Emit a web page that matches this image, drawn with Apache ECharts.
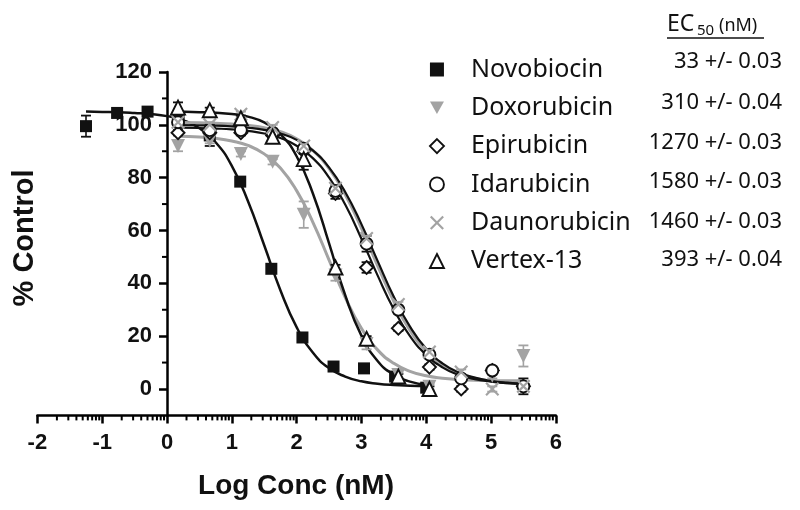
<!DOCTYPE html>
<html><head><meta charset="utf-8">
<script src="https://cdn.jsdelivr.net/npm/echarts@6/dist/echarts.min.js"></script>
<style>html,body{margin:0;padding:0;background:#fff}#c{width:800px;height:510px}</style>
</head><body><div id="c"></div>
<script>
// ---- data ----
const seriesNames = ['Novobiocin','Doxorubicin','Epirubicin','Idarubicin','Daunorubicin','Vertex-13'];
const ec50Labels = ['33 +/- 0.03','310 +/- 0.04','1270 +/- 0.03','1580 +/- 0.03','1460 +/- 0.03','393 +/- 0.04'];
const xTicks = [-2,-1,0,1,2,3,4,5,6];
const yTicks = [0,20,40,60,80,100,120];

const doseNovo  = [-1.25,-0.77,-0.30,0.18,0.66,1.13,1.61,2.09,2.57,3.04,3.52,4.00];
const doseOther = [0.17,0.66,1.14,1.63,2.11,2.60,3.08,3.57,4.05,4.54,5.02,5.50];

const novoY  = [99.5,104.5,105,102,96,78.5,45.5,19.5,8.5,7.8,4.7,0.5];
const novoE  = [4,1,1.5,1,4,1,1,1,1,1.5,1,1];
const doxoY  = [92,94,89,86,66,43,17,5.3,0.8,2,5,12.5];
const doxoE  = [2,1,1,1,5,2,2,1,1,1,1,4];
const epiY   = [97,97,97,96,90,74,46,23,8.3,0,7,1];
const epiE   = [1,1,1,1,1,2,2,1,1,1,1,1];
const idaY   = [101,98,98,97,91,75,55,30,13,4,7,1];
const idaE   = [1,1,1,1,1,2,3,1,1,1,1,3];
const daunoY = [101,100,104,99,92,76,57,32,14,6.4,0,1];
const daunoE = [1,1,1,1,1,1,1,1,1,1,1,1];
const vertY  = [106.5,105.5,102.5,95.5,87,46,19,4.7,0];
const vertE  = [2,1,1,1,4,1,1,1,1];

// fitted curves
const fitNovoX  = [-1.25,-1,-0.75,-0.5,-0.25,0,0.25,0.5,0.75,1.0,1.25,1.5,1.75,2.0,2.25,2.5,2.75,3.0,3.25,3.5,3.75,4.0];
const fitNovoY  = [105,104.9,104.8,104.5,104.1,103.3,101.7,98.7,93.4,84.5,71.1,54.4,37.4,23.4,13.8,7.9,4.7,2.9,2.0,1.5,1.25,1.1];
const fitX      = [0.17,0.5,0.75,1.0,1.25,1.5,1.75,2.0,2.25,2.5,2.75,3.0,3.25,3.5,3.75,4.0,4.25,4.5,4.75,5.0,5.25,5.5];
const fitDoxoY  = [95.7,95.4,94.9,93.9,92.2,89.0,83.7,75.1,63.2,48.9,34.7,23.0,14.8,9.7,6.7,5.0,4.1,3.6,3.3,3.2,3.1,3.1];
const fitEpiY   = [98.9,98.8,98.6,98.3,97.7,96.7,95.0,92.1,87.4,80.1,69.8,56.9,43.0,30.2,20.0,12.9,8.2,5.4,3.7,2.8,2.2,1.9];
const fitIdaY   = [99.9,99.8,99.7,99.4,98.9,98.1,96.7,94.3,90.3,83.9,74.6,62.4,48.5,34.9,23.6,15.2,9.7,6.3,4.3,3.1,2.4,2.0];
const fitDaunoY = [100.9,100.8,100.6,100.3,99.8,98.9,97.4,94.7,90.3,83.5,73.6,60.9,46.7,33.2,22.2,14.3,9.1,5.9,4.1,3.0,2.3,2.0];
const fitVertX  = [0.17,0.5,0.75,1.0,1.25,1.5,1.75,2.0,2.25,2.5,2.75,3.0,3.25,3.5,3.75,4.0];
const fitVertY  = [105,104.8,104.6,104.1,103.1,100.9,96.5,88.1,74.1,55.2,35.5,20.2,10.6,5.4,2.8,1.6];

// ---- styling ----
const BLACK = '#111111', GRAY = '#a3a3a3';
const X_MIN = -2, X_MAX = 6, Y_MIN = -10, Y_MAX = 120;
const GRID = {left:37.4, right:244.2, top:72, bottom:94.6};
const pathX = 'path://M0,1.1L1.1,0L5,3.9L8.9,0L10,1.1L6.1,5L10,8.9L8.9,10L5,6.1L1.1,10L0,8.9L3.9,5Z';
const pathDown = 'path://M0,0L10,0L5,9Z';

const zip = (xs, ys) => xs.map((x, i) => [x, ys[i]]);
const zip3 = (xs, ys, es) => ys.map((y, i) => [xs[i], y, es[i]]);

// log-decade minor tick positions on the x axis
const xMinor = [];
for (let n = X_MIN; n < X_MAX; n++) for (let k = 2; k <= 9; k++) xMinor.push(n + Math.log10(k));
const yMinor = [10,30,50,70,90,110];

const markerDefs = [
  {name:'Novobiocin',   dose:doseNovo,  y:novoY,  e:novoE,  symbol:'rect',    size:12, color:BLACK, fill:BLACK, bw:0},
  {name:'Doxorubicin',  dose:doseOther, y:doxoY,  e:doxoE,  symbol:pathDown,  size:14, color:GRAY,  fill:GRAY,  bw:0},
  {name:'Epirubicin',   dose:doseOther, y:epiY,   e:epiE,   symbol:'diamond', size:13, color:BLACK, fill:'#fff', bw:1.9},
  {name:'Idarubicin',   dose:doseOther, y:idaY,   e:idaE,   symbol:'circle',  size:12, color:BLACK, fill:'#fff', bw:1.9},
  {name:'Daunorubicin', dose:doseOther, y:daunoY, e:daunoE, symbol:pathX,     size:14, color:GRAY,  fill:GRAY,  bw:0},
  {name:'Vertex-13',    dose:doseOther, y:vertY,  e:vertE,  symbol:'triangle',size:14, color:BLACK, fill:'#fff', bw:1.9}
];
const fitDefs = [
  {x:fitNovoX, y:fitNovoY,  color:BLACK, w:2.5},
  {x:fitX,     y:fitDoxoY,  color:GRAY,  w:3},
  {x:fitX,     y:fitDaunoY, color:GRAY,  w:3},
  {x:fitX,     y:fitEpiY,   color:BLACK, w:2.2},
  {x:fitX,     y:fitIdaY,   color:BLACK, w:2.2},
  {x:fitVertX, y:fitVertY,  color:BLACK, w:2.5}
];

function errRender(color){
  return function(params, api){
    const x = api.value(0), y = api.value(1), e = api.value(2);
    const t = api.coord([x, y + e]), b = api.coord([x, y - e]);
    const w = 5;
    return {type:'group', children:[
      {type:'line', shape:{x1:t[0],y1:t[1],x2:b[0],y2:b[1]}, style:{stroke:color,lineWidth:1.6}},
      {type:'line', shape:{x1:t[0]-w,y1:t[1],x2:t[0]+w,y2:t[1]}, style:{stroke:color,lineWidth:1.8}},
      {type:'line', shape:{x1:b[0]-w,y1:b[1],x2:b[0]+w,y2:b[1]}, style:{stroke:color,lineWidth:1.8}}
    ]};
  };
}

const series = [];
fitDefs.forEach((f, i) => series.push({
  type:'line', name:'fit'+i, data:zip(f.x, f.y), smooth:0.5,
  showSymbol:false, symbol:'none', lineStyle:{color:f.color, width:f.w}, z:2, silent:true
}));
markerDefs.forEach(m => series.push({
  type:'custom', name:m.name+' err', data:zip3(m.dose, m.y, m.e), renderItem:errRender(m.color), z:3, silent:true
}));
markerDefs.forEach(m => series.push({
  type:'scatter', name:m.name, data:zip(m.dose, m.y), symbol:m.symbol, symbolSize:m.size,
  itemStyle:{color:m.fill, borderColor:m.color, borderWidth:m.bw, opacity:1}, z:4
}));
// log minor ticks on x axis, minor ticks on y axis
series.push({type:'custom', name:'xminor', data:xMinor.map(v=>[v]), silent:true, z:5, clip:false,
  renderItem:(p, api) => { const c = api.coord([api.value(0), Y_MIN]);
    return {type:'line', shape:{x1:c[0],y1:c[1],x2:c[0],y2:c[1]+5}, style:{stroke:'#000',lineWidth:2}}; }});
series.push({type:'custom', name:'yminor', data:yMinor.map(v=>[0, v]), silent:true, z:5, clip:false,
  renderItem:(p, api) => { const c = api.coord([api.value(0), api.value(1)]);
    return {type:'line', shape:{x1:c[0]-5,y1:c[1],x2:c[0],y2:c[1]}, style:{stroke:'#000',lineWidth:2}}; }});

const tickFont = {fontFamily:'Liberation Sans, Arial, sans-serif', fontWeight:'bold', fontSize:22, color:'#111'};

const graphics = [
  {type:'text', x:25, y:238, rotation:Math.PI/2, style:{text:'% Control', fill:'#111', font:'bold 29px "Liberation Sans", Arial, sans-serif', textAlign:'center', textVerticalAlign:'middle'}},
  {type:'text', x:296, y:486, style:{text:'Log Conc (nM)', fill:'#111', font:'bold 28px "Liberation Sans", Arial, sans-serif', textAlign:'center', textVerticalAlign:'middle'}},
  {type:'text', x:667, y:24, style:{text:'EC', fill:'#111', font:'23px "Noto Sans", sans-serif', textAlign:'left', textVerticalAlign:'middle'}},
  {type:'text', x:697, y:31, style:{text:'50', fill:'#111', font:'15px "Noto Sans", sans-serif', textAlign:'left', textVerticalAlign:'middle'}},
  {type:'text', x:719, y:26, style:{text:'(nM)', fill:'#111', font:'18px "Noto Sans", sans-serif', textAlign:'left', textVerticalAlign:'middle'}},
  {type:'line', shape:{x1:667,y1:38,x2:764,y2:38}, style:{stroke:'#111', lineWidth:1.5}}
];
const ecY = [62,103,143,182,222,260];
ec50Labels.forEach((t, i) => graphics.push({type:'text', x:782, y:ecY[i],
  style:{text:t, fill:'#111', font:'22px "Noto Sans", sans-serif', textAlign:'right', textVerticalAlign:'middle'}}));

// y axis sits at x = 0; shift it right from the grid's left edge by the pixel distance of 0 from X_MIN
const plotW = 800 - GRID.left - GRID.right;
const yAxisShift = plotW * (0 - X_MIN) / (X_MAX - X_MIN);

const option = {
  animation:false,
  backgroundColor:'#fff',
  grid:Object.assign({containLabel:false, outerBoundsMode:'none'}, GRID),
  xAxis:{type:'value', min:X_MIN, max:X_MAX, interval:1,
    axisLine:{onZero:false, lineStyle:{color:'#000', width:2.5}},
    axisTick:{length:8, lineStyle:{color:'#000', width:2.5}},
    axisLabel:Object.assign({margin:17, formatter:v => xTicks.includes(v) ? String(v) : ''}, tickFont),
    splitLine:{show:false}},
  yAxis:{type:'value', min:Y_MIN, max:Y_MAX, offset:-yAxisShift,
    axisLine:{show:true, onZero:false, lineStyle:{color:'#000', width:2.5}},
    axisTick:{show:true, length:8, customValues:yTicks, lineStyle:{color:'#000', width:2.5}},
    axisLabel:Object.assign({margin:15, customValues:yTicks}, tickFont),
    splitLine:{show:false}},
  legend:{orient:'vertical', left:424, top:52, itemWidth:14, itemHeight:14, itemGap:13.3,
    selectedMode:false,
    textStyle:{fontFamily:'"Noto Sans", sans-serif', fontSize:25, color:'#111', lineHeight:25, padding:[0,0,0,22]},
    data:markerDefs.map(m => ({name:m.name, icon:m.symbol,
      itemStyle:{color:m.fill, borderColor:m.color, borderWidth:m.bw}}))},
  graphic:graphics,
  series:series
};
const chart = echarts.init(document.getElementById('c'), null, {renderer:'canvas'});
chart.setOption(option);
</script></body></html>
